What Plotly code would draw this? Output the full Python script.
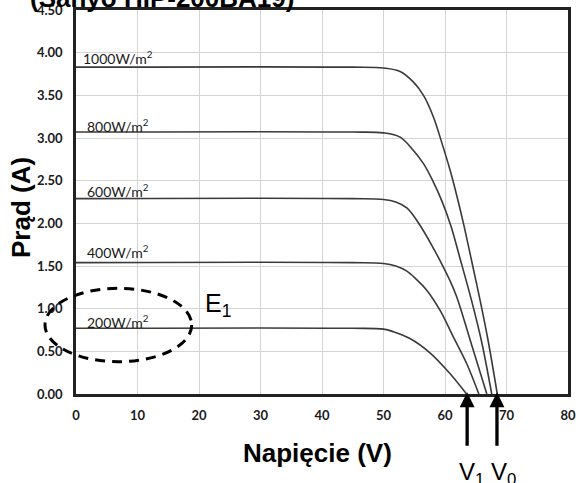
import plotly.graph_objects as go

# ---- data ----
irradiance_labels = ["1000W/m<sup>2</sup>", "800W/m<sup>2</sup>", "600W/m<sup>2</sup>",
                     "400W/m<sup>2</sup>", "200W/m<sup>2</sup>"]

v_1000 = [0, 45, 50, 52.7, 54.8, 56.5, 58.1, 59.5, 60.8, 62.0, 63.0, 64.3, 65.7, 67.0, 68.5]
i_1000 = [3.83, 3.83, 3.82, 3.78, 3.66, 3.50, 3.25, 2.94, 2.63, 2.30, 2.00, 1.57, 1.10, 0.63, 0.0]

v_800 = [0, 45, 50, 52.7, 54.8, 56.5, 58.0, 59.5, 61.0, 62.4, 64.3, 65.9, 67.6]
i_800 = [3.07, 3.07, 3.06, 3.01, 2.86, 2.70, 2.50, 2.26, 1.96, 1.60, 1.10, 0.63, 0.0]

v_600 = [0, 45, 50, 52.0, 53.8, 55.9, 58.1, 59.5, 60.8, 61.9, 64.1, 66.8]
i_600 = [2.29, 2.29, 2.28, 2.25, 2.18, 1.98, 1.71, 1.52, 1.33, 1.14, 0.63, 0.0]

v_400 = [0, 45, 50, 52.0, 53.8, 55.4, 57.0, 59.2, 61.35, 63.5, 65.5]
i_400 = [1.54, 1.54, 1.53, 1.50, 1.44, 1.34, 1.22, 0.98, 0.67, 0.36, 0.0]

v_200 = [0, 45, 50, 51.6, 54.3, 57.6, 60.8, 63.5]
i_200 = [0.77, 0.77, 0.76, 0.73, 0.65, 0.48, 0.24, 0.0]

series_v = [v_1000, v_800, v_600, v_400, v_200]
series_i = [i_1000, i_800, i_600, i_400, i_200]

label_x = [0.8, 1.45, 1.45, 1.45, 1.45]
label_y = [3.94, 3.15, 2.39, 1.67, 0.85]

x_ticks = [0, 10, 20, 30, 40, 50, 60, 70, 80]
y_ticks = [0.0, 0.5, 1.0, 1.5, 2.0, 2.5, 3.0, 3.5, 4.0, 4.5]

v1_value = 63.6
v0_value = 68.45

title_text = "(Sanyo HIP-200BA19)"
x_title = "Napięcie (V)"
y_title = "Prąd (A)"

# ---- figure ----
fig = go.Figure()
for v, i in zip(series_v, series_i):
    fig.add_trace(go.Scatter(x=v, y=i, mode="lines",
                             line=dict(color="#3a3a3a", width=1.6, shape="spline", smoothing=1.0),
                             hoverinfo="skip", showlegend=False))

L, R, T, B = 76, 11, 10, 89
W, H = 579, 483

fig.update_layout(
    width=W, height=H,
    margin=dict(l=L, r=R, t=T, b=B, pad=0, autoexpand=False),
    paper_bgcolor="white", plot_bgcolor="white",
    showlegend=False,
)

tickfont = dict(family="Lato", size=13, color="#1a1a1a", weight="bold")
fig.update_xaxes(range=[0, 80], tickvals=x_ticks, ticktext=[str(t) for t in x_ticks],
                 showgrid=True, gridcolor="#d4d4d4", gridwidth=1,
                 showline=True, linecolor="#222222", linewidth=2.5, mirror=True,
                 zeroline=False, ticks="", tickfont=tickfont, ticklabelstandoff=8,
                 automargin=False, fixedrange=True)
fig.update_yaxes(range=[0, 4.5], tickvals=y_ticks, ticktext=[f"{t:.2f}" for t in y_ticks],
                 showgrid=True, gridcolor="#d4d4d4", gridwidth=1,
                 showline=True, linecolor="#222222", linewidth=2.5, mirror=True,
                 zeroline=False, ticks="", tickfont=tickfont, ticklabelstandoff=8,
                 automargin=False, fixedrange=True)

ann = []
for lx, ly, txt in zip(label_x, label_y, irradiance_labels):
    ann.append(dict(x=lx, y=ly, xref="x", yref="y", text=txt, showarrow=False,
                    xanchor="left", yanchor="middle",
                    font=dict(family="Lato", size=14, color="#1a1a1a")))

pw, ph = W - L - R, H - T - B
def px(xp):
    return (xp - L) / pw
def py(yp):
    return (H - B - yp) / ph

# title (cut off at top)
ann.append(dict(x=px(162), y=py(-2), xref="paper", yref="paper", text=title_text,
                showarrow=False, xanchor="center", yanchor="middle",
                font=dict(family="Arial", size=26, color="black", weight="bold")))
# axis titles
ann.append(dict(x=px(317), y=py(453), xref="paper", yref="paper", text=x_title,
                showarrow=False, xanchor="center", yanchor="middle",
                font=dict(family="Arial", size=26, color="black", weight="bold")))
ann.append(dict(x=px(21), y=py(208), xref="paper", yref="paper", text=y_title,
                showarrow=False, xanchor="center", yanchor="middle", textangle=-90,
                font=dict(family="Arial", size=26, color="black", weight="bold")))
# E1 label
ann.append(dict(x=px(218), y=py(305), xref="paper", yref="paper", text="E<sub>1</sub>",
                showarrow=False, xanchor="center", yanchor="middle",
                font=dict(family="Arial", size=25, color="black")))
# arrows
for xv in [v1_value, v0_value]:
    ann.append(dict(x=xv, y=0.02, xref="x", yref="y", text="", showarrow=True,
                    arrowhead=2, arrowsize=0.9, arrowwidth=3.3, arrowcolor="black",
                    ax=0, ay=55, axref="pixel", ayref="pixel"))
# V labels
ann.append(dict(x=px(471.5), y=py(473), xref="paper", yref="paper", text="V<sub>1</sub>",
                showarrow=False, xanchor="center", yanchor="middle",
                font=dict(family="Arial", size=24, color="black")))
ann.append(dict(x=px(503.5), y=py(473), xref="paper", yref="paper", text="V<sub>0</sub>",
                showarrow=False, xanchor="center", yanchor="middle",
                font=dict(family="Arial", size=24, color="black")))

fig.update_layout(annotations=ann)

# dashed ellipse E1
fig.add_shape(type="circle", xref="paper", yref="paper",
              x0=px(45), x1=px(191.7), y0=py(361.7), y1=py(288.3),
              line=dict(color="black", width=3, dash="10px,7px"), layer="above")

fig.write_html("out.html", config={"displayModeBar": False},
               post_script="document.body.style.margin='0';document.body.style.overflow='hidden';")
